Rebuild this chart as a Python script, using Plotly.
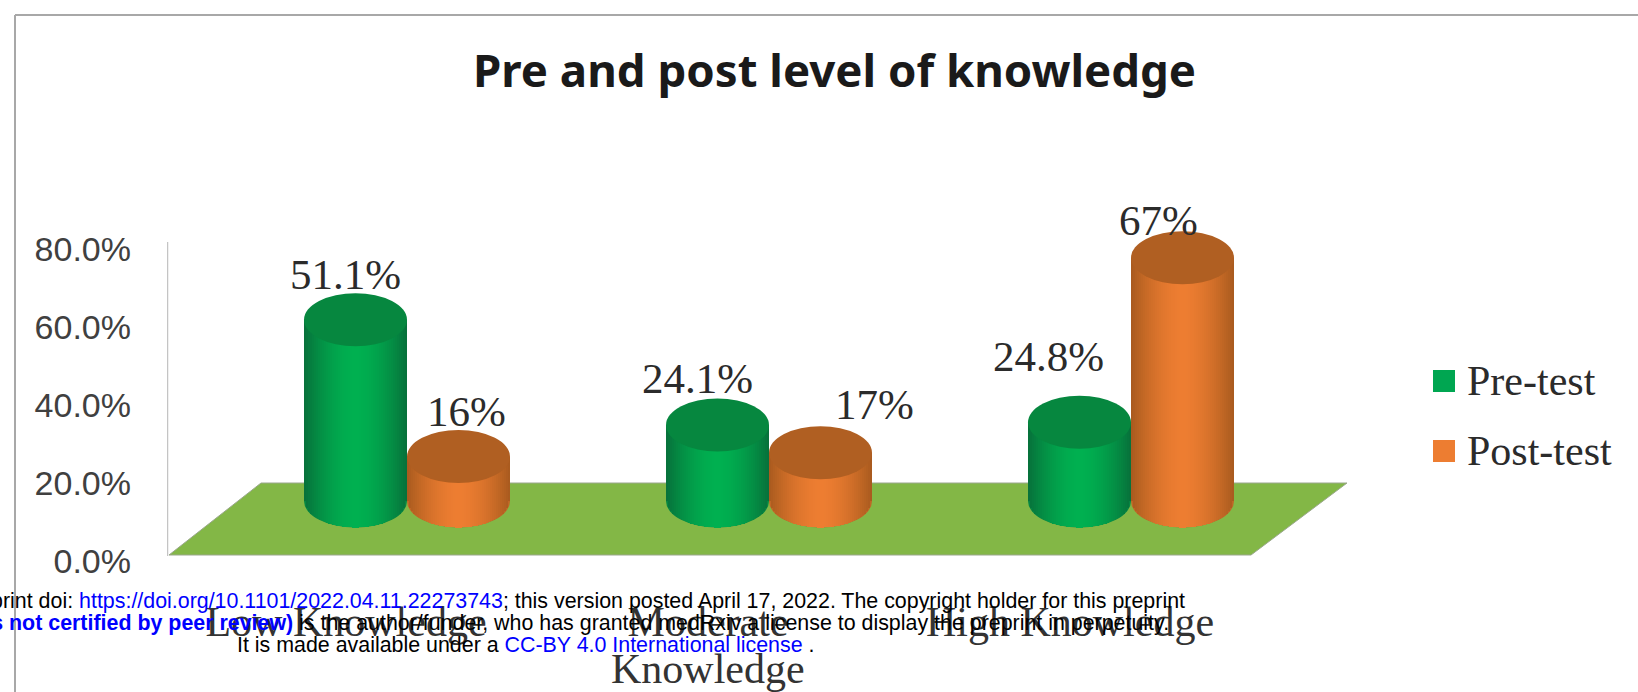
import plotly.graph_objects as go

# ---- data ----
categories = ["Low Knowledge", "Moderate", "High Knowledge"]
category_second_line = "Knowledge"          # second line of the middle label
pre_test = [51.1, 24.1, 24.8]
post_test = [16, 17, 67]
pre_labels = ["51.1%", "24.1%", "24.8%"]
post_labels = ["16%", "17%", "67%"]
y_ticks = [0, 20, 40, 60, 80]
y_tick_labels = ["0.0%", "20.0%", "40.0%", "60.0%", "80.0%"]
title = "Pre and post level of knowledge"
series_names = ["Pre-test", "Post-test"]

# ---- layout geometry (pixels of the page) ----
W, H = 1638, 692
PL, PR, PT, PB = 167, 1400, 200, 575          # plot box
GROUP_PX, X0_TICK, X0_BAR = 362.0, 346.0, 407.0
PX_PER_UNIT = 3.9
Y0_TICK, Y0_BAR = 561.0, 519.0                 # 3-D depth moves bars relative to the axis
BAR_W_PX = 103.0
RY_PX = 26.5
BASE_VALUE = 4.6
N_STRIPS = 51

xr = [(PL - X0_TICK) / GROUP_PX, (PR - X0_TICK) / GROUP_PX]
x2r = [(PL - X0_BAR) / GROUP_PX, (PR - X0_BAR) / GROUP_PX]
yr = [(Y0_TICK - PB) / PX_PER_UNIT, (Y0_TICK - PT) / PX_PER_UNIT]
y2r = [(Y0_BAR - PB) / PX_PER_UNIT, (Y0_BAR - PT) / PX_PER_UNIT]


def xu(p):
    return (p - X0_TICK) / GROUP_PX


def yu(p):
    return (Y0_TICK - p) / PX_PER_UNIT


def px(p):
    return (p - PL) / (PR - PL)


def py(p):
    return (PB - p) / (PB - PT)


def mix(a, b, t):
    return "rgb(%d,%d,%d)" % tuple(round(a[i] + (b[i] - a[i]) * t) for i in range(3))


fig = go.Figure()

shapes = []
# floor
floor_path = "M %f,%f L %f,%f L %f,%f L %f,%f Z" % (
    xu(169), yu(555), xu(1251), yu(555), xu(1347), yu(483), xu(261), yu(483))
shapes.append(dict(type="path", xref="x", yref="y", path=floor_path, fillcolor="#83B746",
                   line=dict(color="#9aa78c", width=1), layer="below"))
# wall line
shapes.append(dict(type="line", xref="x", yref="y", x0=xu(167), x1=xu(167), y0=yu(556), y1=yu(242),
                   line=dict(color="#c4c4c4", width=2.5), layer="below"))

series = [
    (pre_test, (7, 112, 58), (0, 176, 80), "#06873F", -1),
    (post_test, (168, 90, 30), (237, 125, 49), "#B05F22", 0),
]
bw = BAR_W_PX / GROUP_PX
ry = RY_PX / PX_PER_UNIT
for (vals, dark, bright, cap, side), name in zip(series, series_names):
    for i in range(N_STRIPS):
        u0 = -1 + 2 * i / N_STRIPS
        u1 = -1 + 2 * (i + 1) / N_STRIPS
        um = (u0 + u1) / 2
        t = 1 - abs(um) ** 1.7
        drop = ry * (1 - max(abs(u0), abs(u1)) ** 2) ** 0.5
        fig.add_trace(go.Bar(
            x=[0, 1, 2],
            y=[v - BASE_VALUE + drop for v in vals],
            base=[BASE_VALUE - drop] * 3,
            offset=side * bw + (u0 + 1) / 2 * bw,
            width=bw / N_STRIPS * 1.08,
            marker=dict(color=mix(dark, bright, t), line=dict(width=0)),
            name=name, showlegend=False, hoverinfo="skip",
            xaxis="x2", yaxis="y2",
        ))
    for k, v in enumerate(vals):
        c = k + (side + 0.5) * bw
        # rounded foot of the cylinder, under the shaded strips
        shapes.append(dict(type="circle", xref="x2", yref="y2",
                           x0=c - bw / 2, x1=c + bw / 2, y0=BASE_VALUE - ry, y1=BASE_VALUE + ry,
                           fillcolor=mix(dark, bright, 0.35), line=dict(width=0), layer="below"))
        # top cap
        shapes.append(dict(type="circle", xref="x2", yref="y2",
                           x0=c - bw / 2, x1=c + bw / 2, y0=v - ry, y1=v + ry,
                           fillcolor=cap, line=dict(width=0), layer="above"))

# data labels: hand-placed in the original, so each has its own offset
pre_offsets = [(-10, 45), (-20, 47), (-31, 66)]
post_offsets = [(8, 45), (54, 48), (-24, 37)]
ann = []
for vals, labels, offs, side in [(pre_test, pre_labels, pre_offsets, -1),
                                 (post_test, post_labels, post_offsets, 0)]:
    for k, (v, l, o) in enumerate(zip(vals, labels, offs)):
        ann.append(dict(xref="x2", yref="y2", x=k + (side + 0.5) * bw, y=v, text=l,
                        showarrow=False, xanchor="center", yanchor="middle",
                        xshift=o[0], yshift=o[1],
                        font=dict(family="Liberation Serif", size=43, color="#2b2b2b")))

# second line of the middle category label, at the tighter line spacing of the original
ann.append(dict(xref="x", yref="paper", x=1, y=py(669), text=category_second_line,
                showarrow=False, xanchor="center", yanchor="middle",
                font=dict(family="Liberation Serif", size=42, color="#333333")))

# title
ann.append(dict(xref="paper", yref="paper", x=px(834), y=py(69), text="<b>%s</b>" % title,
                showarrow=False, xanchor="center", yanchor="middle",
                font=dict(family="Noto Sans", size=45.6, color="#1a1a1a")))

# legend
for name, color, cy in [(series_names[0], "#00A651", 381), (series_names[1], "#ED7D31", 451)]:
    shapes.append(dict(type="rect", xref="paper", yref="paper",
                       x0=px(1433), x1=px(1455), y0=py(cy + 11), y1=py(cy - 11),
                       fillcolor=color, line=dict(width=0)))
    ann.append(dict(xref="paper", yref="paper", x=px(1465), y=py(cy), text=name,
                    showarrow=False, xanchor="left", yanchor="middle",
                    font=dict(family="Liberation Serif", size=42, color="#2b2b2b")))

# frame
shapes.append(dict(type="line", xref="paper", yref="paper", x0=px(15), x1=px(W), y0=py(15), y1=py(15),
                   line=dict(color="#a8a8a8", width=2)))
shapes.append(dict(type="line", xref="paper", yref="paper", x0=px(15), x1=px(15), y0=py(H), y1=py(15),
                   line=dict(color="#a8a8a8", width=2)))

# preprint stamp
BLUE = "#0000FF"
stamp = [
    ("medRxiv preprint doi: <span style='color:%s'>https://doi.org/10.1101/2022.04.11.22273743</span>; "
     "this version posted April 17, 2022. The copyright holder for this preprint" % BLUE, 1187, 601),
    ("<span style='color:%s'><b>(which was not certified by peer review)</b></span> is the author/funder, "
     "who has granted medRxiv a license to display the preprint in perpetuity." % BLUE, 1171, 623),
    ("It is made available under a <span style='color:%s'>CC-BY 4.0 International license</span> ." % BLUE, 817, 645),
]
for text, xr_px, cy in stamp:
    ann.append(dict(xref="paper", yref="paper", x=px(xr_px), y=py(cy), text=text,
                    showarrow=False, xanchor="right", yanchor="middle",
                    font=dict(family="Liberation Sans", size=21.4, color="black")))

fig.update_layout(
    width=W, height=H, autosize=False,
    margin=dict(l=PL, r=W - PR, t=PT, b=H - PB, pad=0, autoexpand=False),
    paper_bgcolor="white", plot_bgcolor="rgba(0,0,0,0)",
    barmode="overlay", bargap=0, showlegend=False,
    shapes=shapes, annotations=ann,
    font=dict(family="Liberation Sans"),
    xaxis=dict(range=xr, tickmode="array", tickvals=[0, 1, 2], ticktext=categories,
               showgrid=False, zeroline=False, showline=False, ticks="", automargin=False,
               ticklabelstandoff=18,
               tickfont=dict(family="Liberation Serif", size=42, color="#333333")),
    xaxis2=dict(range=x2r, overlaying="x", visible=False),
    yaxis=dict(range=yr, tickmode="array", tickvals=y_ticks, ticktext=y_tick_labels,
               showgrid=False, zeroline=False, showline=False, ticks="", automargin=False,
               ticklabelstandoff=35,
               tickfont=dict(family="Liberation Sans", size=34, color="#404040")),
    yaxis2=dict(range=y2r, overlaying="y", visible=False),
)

fig.write_html("out.html", config=dict(displayModeBar=False),
               post_script="document.body.style.margin='0';document.body.style.overflow='hidden';")
